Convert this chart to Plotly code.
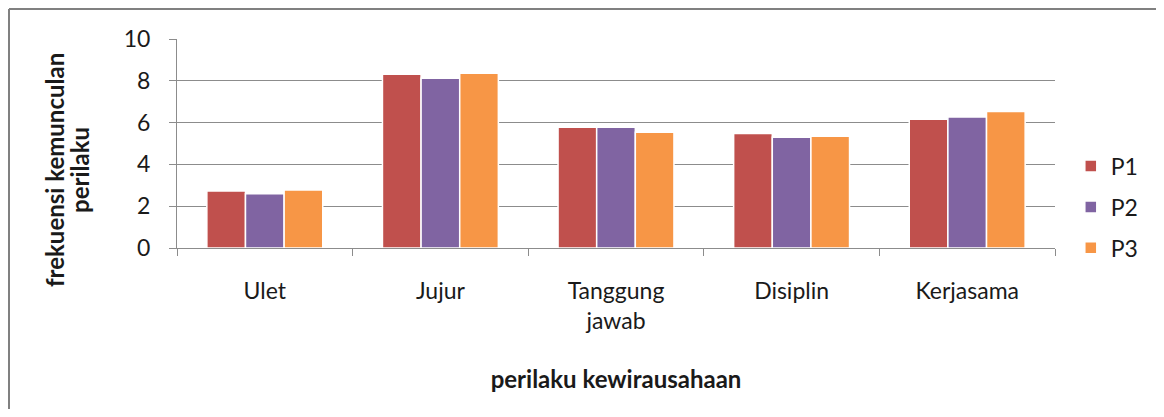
import plotly.graph_objects as go

categories = ["Ulet", "Jujur", "Tanggung<br>jawab", "Disiplin", "Kerjasama"]
p1 = [2.73, 8.31, 5.78, 5.48, 6.16]
p2 = [2.60, 8.12, 5.78, 5.30, 6.27]
p3 = [2.78, 8.36, 5.54, 5.35, 6.53]
series_names = ["P1", "P2", "P3"]
colors = ["#C0504D", "#8064A2", "#F79646"]
y_title_lines = ["frekuensi kemunculan", "perilaku"]
x_title = "perilaku kewirausahaan"

FONT = "Lato, Open Sans, sans-serif"

W, H = 1148, 401
L, T, PW, PH = 169, 31, 878, 209
R = W - L - PW
B = H - T - PH

fig = go.Figure()
for name, vals, col in zip(series_names, [p1, p2, p3], colors):
    fig.add_trace(go.Bar(
        x=categories, y=vals, name=name, legendgroup=name,
        marker=dict(color=col, line=dict(color="white", width=1.5)),
    ))

fig.update_layout(
    width=W, height=H,
    margin=dict(l=L, r=R, t=T, b=B, autoexpand=False),
    paper_bgcolor="white", plot_bgcolor="white",
    barmode="group", bargap=0.34, bargroupgap=0.0,
    font=dict(family=FONT, size=23, color="#1a1a1a"),
    legend=dict(
        x=1.018, y=0.196, xanchor="left", yanchor="middle",
        traceorder="grouped", tracegroupgap=8,
        font=dict(size=23, color="#1a1a1a"),
    ),
    showlegend=True,
)

fig.update_yaxes(
    range=[0, 10], dtick=2,
    showgrid=True, gridcolor="#8c8c8c", gridwidth=1,
    showline=True, linecolor="#8c8c8c", linewidth=1,
    ticks="outside", ticklen=7, tickcolor="#8c8c8c",
    tickfont=dict(size=23), ticklabelstandoff=14,
    zeroline=False, automargin=False,
)
fig.update_xaxes(
    showline=True, linecolor="#8c8c8c", linewidth=1,
    ticks="outside", ticklen=7, tickcolor="#8c8c8c", tickson="boundaries",
    tickfont=dict(size=23), ticklabelstandoff=22,
    title=dict(text="<b>" + x_title + "</b>", font=dict(size=24), standoff=38),
    automargin=False,
)

# y-axis title, two tightly spaced lines, lower than plot centre as in the original
for line_text, fx in zip(y_title_lines, [46, 71]):
    fig.add_annotation(
        text="<b>" + line_text + "</b>",
        textangle=-90, xref="paper", yref="paper",
        x=(fx - L) / PW, y=(T + PH - 162) / PH,
        xanchor="center", yanchor="middle", showarrow=False,
        font=dict(size=24, color="#1a1a1a"),
    )

# outer chart border (top and left edges visible)
fig.add_shape(type="line", xref="paper", yref="paper",
              x0=(1 - L) / PW, x1=(W - L) / PW,
              y0=1 + (T - 1) / PH, y1=1 + (T - 1) / PH,
              line=dict(color="#808080", width=2))
fig.add_shape(type="line", xref="paper", yref="paper",
              x0=(1 - L) / PW, x1=(1 - L) / PW,
              y0=-B / PH, y1=1 + (T - 1) / PH,
              line=dict(color="#808080", width=2))

fig.write_html("out.html")
